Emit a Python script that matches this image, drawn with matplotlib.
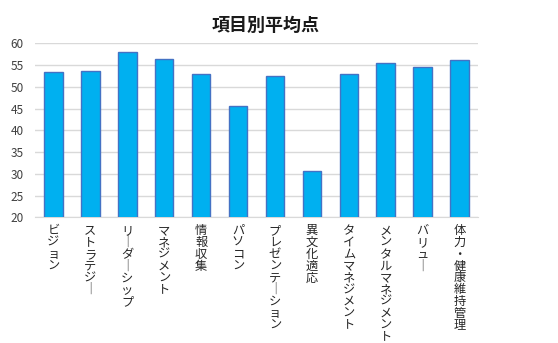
import numpy as np
import matplotlib.pyplot as plt

plt.rcParams['font.family'] = ['Noto Sans CJK JP', 'DejaVu Sans']

# Data
categories = ['ビジョン', 'ストラテジー', 'リーダーシップ', 'マネジメント', '情報収集',
              'パソコン', 'プレゼンテーション', '異文化適応', 'タイムマネジメント',
              'メンタルマネジメント', 'バリュー', '体力・健康維持管理']
scores = [53.5, 53.6, 57.9, 56.5, 52.9, 45.6, 52.5, 30.7, 52.9, 55.4, 54.6, 56.2]
yticks = [20, 25, 30, 35, 40, 45, 50, 55, 60]


def vertical(s):
    # stack characters top to bottom, long vowel mark drawn upright
    return '\n'.join('│' if ch == 'ー' else ch for ch in s)


fig = plt.figure(figsize=(5.58, 3.43), dpi=100)
ax = fig.add_axes([35 / 558, 1 - 217.3 / 343, 443 / 558, 174 / 343])

x = np.arange(len(categories))
ax.bar(x, scores, width=0.5, color='#00B0F0', edgecolor='#4472C4', linewidth=1.0,
       zorder=3)

ax.set_xlim(-0.5, len(categories) - 0.5)
ax.set_ylim(20, 60)
ax.set_yticks(yticks)
ax.yaxis.grid(True, color='#D9D9D9', linewidth=1.0, zorder=0)
ax.tick_params(axis='y', length=0, labelsize=8.5, labelcolor='#404040', pad=8)
ax.tick_params(axis='x', length=0, pad=5)

ax.set_xticks(x)
ax.set_xticklabels([vertical(c) for c in categories], fontsize=8.8, color='#262626',
                   linespacing=0.88, va='top', ha='center')

for side in ['top', 'right', 'left']:
    ax.spines[side].set_visible(False)
ax.spines['bottom'].set_color('#D9D9D9')

fig.text(266 / 558, 1 - 25 / 343, '項目別平均点', ha='center', va='center',
         fontsize=13, fontweight='bold', color='#1a1a1a')

fig.savefig('out.png', dpi=100)
